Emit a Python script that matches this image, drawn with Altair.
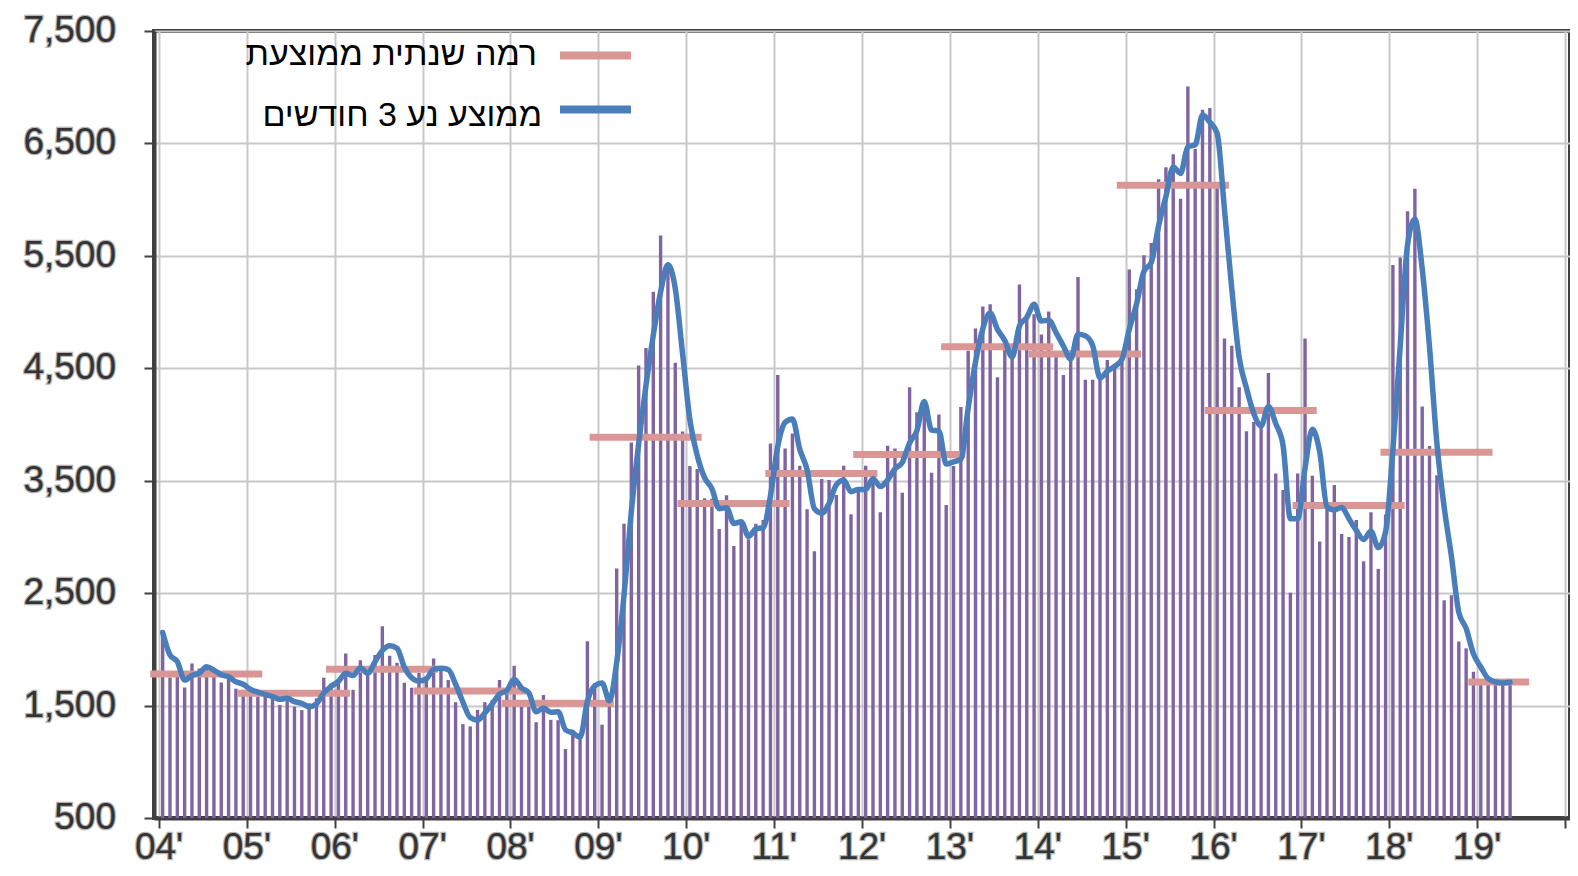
import altair as alt
import pandas as pd

# ---- data ----
year_labels = ["04'", "05'", "06'", "07'", "08'", "09'", "10'", "11'",
               "12'", "13'", "14'", "15'", "16'", "17'", "18'", "19'"]
y_ticks = [500, 1500, 2500, 3500, 4500, 5500, 6500, 7500]

m2004 = [2150, 1750, 1770, 1660, 1875, 1830, 1830, 1785, 1705, 1780, 1650, 1640]
m2005 = [1640, 1580, 1580, 1580, 1506, 1610, 1490, 1460, 1520, 1565, 1748, 1698]
m2006 = [1700, 1963, 1640, 1904, 1815, 1950, 2205, 1943, 1880, 1704, 1659, 1790]
m2007 = [1760, 1919, 1815, 1727, 1530, 1335, 1314, 1462, 1530, 1550, 1727, 1624]
m2008 = [1854, 1491, 1491, 1352, 1594, 1373, 1370, 1114, 1285, 1255, 2072, 1700]
m2009 = [1330, 1600, 2720, 3117, 3840, 4525, 4680, 5180, 5680, 5400, 4550, 3937]
m2010 = [3630, 3605, 3345, 3340, 3070, 3370, 2920, 3117, 2980, 3117, 3150, 3830]
m2011 = [4441, 3786, 3919, 3633, 3246, 2872, 3515, 3506, 3373, 3633, 3202, 3432]
m2012 = [3633, 3490, 3220, 3810, 3786, 3394, 4332, 4110, 4170, 3570, 4090, 3285]
m2013 = [3630, 4155, 4656, 4854, 5049, 5069, 4420, 4750, 4630, 5246, 4980, 4980]
m2014 = [4800, 5004, 4650, 4441, 4658, 5311, 4397, 4397, 4450, 4574, 4524, 4640]
m2015 = [5379, 5202, 5506, 5615, 6181, 6288, 6403, 6007, 7007, 6450, 6800, 6816]
m2016 = [6150, 4766, 4700, 4332, 3940, 4022, 4000, 4459, 3565, 3417, 2503, 3565]
m2017 = [4766, 3544, 2960, 3300, 3462, 3025, 3000, 3150, 2783, 3220, 2716, 3200]
m2018 = [5418, 5486, 5897, 6096, 4159, 3808, 3549, 2436, 2481, 2070, 2009, 1800]
m2019 = [1720, 1700, 1710, 1690, 1720]

monthly_by_year = [m2004, m2005, m2006, m2007, m2008, m2009, m2010, m2011,
                   m2012, m2013, m2014, m2015, m2016, m2017, m2018, m2019]

annual_avg = [1780, 1609, 1822, 1630, 1521, 3886, 3298, 3565,
              3733, 4692, 4627, 6128, 4125, 3279, 3753, 1710]

legend_labels = ["רמה שנתית ממוצעת", "ממוצע נע 3 חודשים"]

# ---- tables built from the arrays ----
rows = []
for yi, vals in enumerate(monthly_by_year):
    for mi, v in enumerate(vals):
        rows.append({"t": yi * 12 + mi + 0.5, "v": v})
df = pd.DataFrame(rows)

ann = pd.DataFrame({
    "yi": list(range(len(annual_avg))),
    "avg": annual_avg,
    "n": [len(v) for v in monthly_by_year],
})

xlab_df = pd.DataFrame({"t": [i * 12 for i in range(len(year_labels))],
                        "s": year_labels})
ylab_df = pd.DataFrame({"v": y_ticks, "s": [f"{v:,}" for v in y_ticks]})

FONT = "Liberation Sans, Arial, DejaVu Sans"
BAR = "#8064A2"
BLUE = "#4a7ebb"
PINK = "#D99694"
DARK = "#404040"
HALO = "#b4b4b4"
INK = "#333333"
LABEL_SIZE = 37
PLOT_W, PLOT_H = 1416, 787

x_scale = alt.Scale(domain=[0, 192], nice=False, zero=False)
y_scale = alt.Scale(domain=[500, 7500], nice=False, zero=False)

x_axis = alt.Axis(values=list(range(0, 193, 12)), title=None, labels=False)
y_axis = alt.Axis(values=y_ticks, title=None, labels=False)

bars = alt.Chart(df).mark_bar(width=3.4, color=BAR).encode(
    x=alt.X("t:Q", scale=x_scale, axis=x_axis),
    y=alt.Y("v:Q", scale=y_scale, axis=y_axis),
    y2=alt.datum(500),
)

annual = alt.Chart(ann).transform_calculate(
    x1="datum.yi * 12 - 1.2",
    x2="datum.yi * 12 + datum.n + 2.1",
).mark_rule(color=PINK, strokeWidth=7).encode(
    x=alt.X("x1:Q", scale=x_scale, axis=x_axis),
    x2="x2:Q",
    y=alt.Y("avg:Q", scale=y_scale, axis=y_axis),
)

moving = alt.Chart(df).transform_window(
    ma="mean(v)", frame=[-2, 0], sort=[alt.SortField("t")]
).mark_line(
    color=BLUE, strokeWidth=5.5, strokeJoin="round", strokeCap="round",
    interpolate="monotone",
).encode(
    x=alt.X("t:Q", scale=x_scale, axis=x_axis),
    y=alt.Y("ma:Q", scale=y_scale, axis=y_axis),
)

# tick labels with a light halo, as in the reference
def y_labels(halo):
    style = dict(stroke=HALO, strokeWidth=2.5, fill=HALO) if halo else dict(fill=INK)
    return alt.Chart(ylab_df).mark_text(
        align="right", baseline="middle", fontSize=LABEL_SIZE, font=FONT,
        **style,
    ).encode(
        text="s:N",
        x=alt.value(-38),
        y=alt.Y("v:Q", scale=y_scale, axis=y_axis),
    )

def x_labels(halo):
    style = dict(stroke=HALO, strokeWidth=2.5, fill=HALO) if halo else dict(fill=INK)
    return alt.Chart(xlab_df).mark_text(
        align="center", baseline="top", fontSize=LABEL_SIZE, font=FONT,
        **style,
    ).encode(
        text="s:N",
        x=alt.X("t:Q", scale=x_scale, axis=x_axis),
        y=alt.value(PLOT_H + 12),
    )

def legend_text(label, xpos, ypos):
    return alt.Chart(pd.DataFrame({"label": [label]})).mark_text(
        align="right", baseline="alphabetic", fontSize=34, font=FONT,
        color="#000000",
    ).encode(text="label:N", x=alt.value(xpos), y=alt.value(ypos))

def legend_swatch(color, ypos):
    return alt.Chart(pd.DataFrame({"k": [0]})).mark_rule(
        color=color, strokeWidth=8
    ).encode(x=alt.value(406), x2=alt.value(477), y=alt.value(ypos))

chart = alt.layer(
    bars, annual, moving,
    y_labels(True), y_labels(False), x_labels(True), x_labels(False),
    legend_swatch(PINK, 24.5), legend_text(legend_labels[0], 383, 34),
    legend_swatch(BLUE, 78.5), legend_text(legend_labels[1], 388, 94.5),
).properties(
    width=PLOT_W, height=PLOT_H,
    padding={"left": 146, "top": 23, "right": 0, "bottom": 50},
    autosize=alt.AutoSizeParams(type="none"),
    background="white",
).configure_view(
    stroke=DARK, strokeWidth=4,
).configure_axis(
    domainColor=DARK, domainWidth=4,
    tickColor=DARK, tickWidth=2, tickSize=10,
    gridColor="#c8c8c8", gridWidth=2, grid=True,
)

chart.save("out.html", embed_options={"renderer": "svg", "actions": False})
